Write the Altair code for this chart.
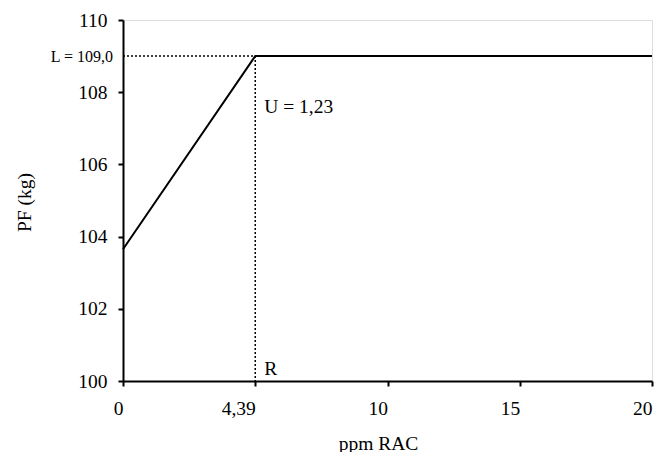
import altair as alt
import pandas as pd

# Data
x_cats = ["0", "4,39", "10", "15", "20"]
pf_values = [103.65, 109.0, 109.0, 109.0, 109.0]

plateau_x = "4,39"
plateau_y = 109.0
y_min = 100.0

df_line = pd.DataFrame({"x": x_cats, "y": pf_values})
df_hdot = pd.DataFrame({"x": ["0", plateau_x], "y": [plateau_y, plateau_y]})
df_vdot = pd.DataFrame({"x": [plateau_x, plateau_x], "y": [plateau_y, y_min]})

lab_left_df = pd.DataFrame({"x": ["0"], "y": [109.0], "t": ["L = 109,0"]})
lab_right_df = pd.DataFrame({
    "x": [plateau_x, plateau_x],
    "y": [107.6, 100.33],
    "t": ["U = 1,23", "R"],
})

FONT = "Liberation Serif"
FS = 19.5
FS_SMALL = 16

xenc = alt.X(
    "x:O",
    sort=x_cats,
    scale=alt.Scale(type="point", padding=0, domain=x_cats),
    axis=alt.Axis(
        title="ppm RAC", labelAngle=0, grid=False, domain=True,
        domainColor="black", domainWidth=2, tickColor="black", tickWidth=2,
        tickSize=5, labelPadding=22, labelFontSize=FS, labelFont=FONT,
        labelColor="black", titleFont=FONT, titleFontSize=FS,
        titleFontWeight="normal", titleColor="black",
        titleX=255, titleY=68, titleBaseline="alphabetic", titleAlign="center",
    ),
)
yenc = alt.Y(
    "y:Q",
    scale=alt.Scale(domain=[100, 110], nice=False, zero=False),
    axis=alt.Axis(
        title="PF (kg)", values=[100, 102, 104, 106, 108, 110], grid=False,
        domainColor="black", domainWidth=2, tickColor="black", tickWidth=2,
        tickSize=5, labelPadding=11, labelFontSize=FS, labelFont=FONT,
        labelColor="black", titleFont=FONT, titleFontSize=FS,
        titleFontWeight="normal", titleColor="black",
        titleX=-99, titleY=182, titleAngle=-90, titleBaseline="middle",
        titleAlign="center",
    ),
)

line = alt.Chart(df_line).mark_line(color="black", strokeWidth=2).encode(
    x=xenc, y=yenc
)
hdot = alt.Chart(df_hdot).mark_line(
    color="black", strokeWidth=1.5, strokeDash=[2, 2]
).encode(x=alt.X("x:O", sort=x_cats), y="y:Q")
vdot = alt.Chart(df_vdot).mark_line(
    color="black", strokeWidth=1.5, strokeDash=[2, 2]
).encode(x=alt.X("x:O", sort=x_cats), y="y:Q")

lab_left = alt.Chart(lab_left_df).mark_text(
    align="right", baseline="middle", dx=-10, dy=1, font=FONT,
    fontSize=FS_SMALL, color="black"
).encode(x=alt.X("x:O", sort=x_cats), y="y:Q", text="t:N")
lab_right = alt.Chart(lab_right_df).mark_text(
    align="left", baseline="middle", dx=9, font=FONT, fontSize=FS, color="black"
).encode(x=alt.X("x:O", sort=x_cats), y="y:Q", text="t:N")

chart = alt.layer(hdot, vdot, line, lab_left, lab_right).properties(
    width=529, height=361,
    autosize=alt.AutoSizeParams(type="none"),
    padding={"left": 115, "top": 12, "right": 5, "bottom": 71},
).configure_view(stroke=None).configure(background="white")

chart.save("out.html", embed_options={"renderer": "svg", "actions": False})
